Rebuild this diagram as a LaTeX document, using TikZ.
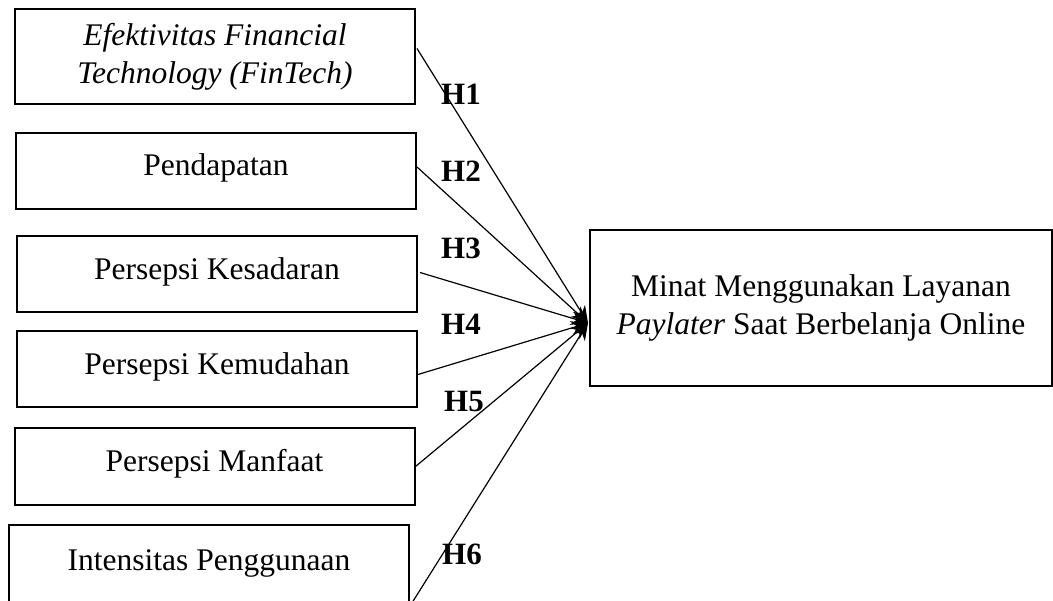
\documentclass[tikz,border=0pt]{standalone}
\usepackage{fontspec}
\setmainfont{Liberation Serif}
\usetikzlibrary{arrows.meta}
\tikzstyle{var} = [rectangle, draw, line width=2pt, minimum width=400pt, minimum height=76pt, inner sep=0pt, align=center, font=\fontsize{31.5}{38}\selectfont]
\tikzstyle{var1} = [var, text height=21pt, text depth=11pt]
\tikzstyle{arrow} = [line width=1.2pt, -{Stealth[length=17pt,width=14pt]}]
\tikzstyle{hyp} = [font=\fontsize{31}{36}\selectfont\bfseries]

\begin{document}
\begin{tikzpicture}[x=1pt, y=-1pt]
\useasboundingbox (0,0) rectangle (1053,601);

% Variabel independen
\node (fintech) [var, minimum height=95pt, font=\fontsize{31.5}{38}\selectfont\itshape] at (215,56.5) {Efektivitas Financial\\Technology (FinTech)};
\node (pendapatan) [var1] at (216,171) {Pendapatan};
\node (kesadaran) [var1] at (217,274.5) {Persepsi Kesadaran};
\node (kemudahan) [var1] at (217,369.5) {Persepsi Kemudahan};
\node (manfaat) [var1, minimum height=77pt] at (214.5,466.5) {Persepsi Manfaat};
\node (intensitas) [var1, minimum height=80pt] at (209,565) {Intensitas Penggunaan};

% Variabel dependen
\node (minat) [var, minimum width=462pt, minimum height=156pt] at (821,308) {Minat Menggunakan Layanan\\\textit{Paylater} Saat Berbelanja Online};
\coordinate (tip) at ([xshift=-1pt,yshift=-15pt]minat.west);

% Hubungan
\draw [arrow] ([xshift=1pt,yshift=8pt]fintech.east) -- (tip);
\draw [arrow] ([yshift=4pt]pendapatan.east) -- (tip);
\draw [arrow] ([xshift=2pt,yshift=2pt]kesadaran.east) -- (tip);
\draw [arrow] ([yshift=-5pt]kemudahan.east) -- (tip);
\draw [arrow] (manfaat.east) -- (tip);
\draw [arrow] (intensitas.south east) -- (tip);

% Label hipotesis
\node (h1) [hyp] at (461,94.5) {H1};
\node (h2) [hyp] at (461,171) {H2};
\node (h3) [hyp] at (461,248) {H3};
\node (h4) [hyp] at (461,324) {H4};
\node (h5) [hyp] at (464,402) {H5};
\node (h6) [hyp] at (462,554) {H6};

\end{tikzpicture}
\end{document}
